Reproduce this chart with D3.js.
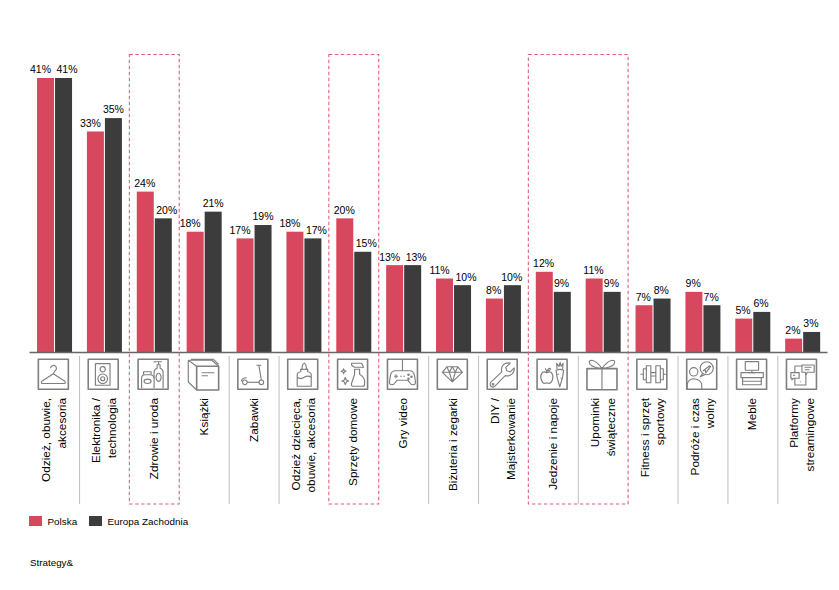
<!DOCTYPE html>
<html lang="pl">
<head>
<meta charset="utf-8">
<script src="https://cdn.jsdelivr.net/npm/d3@7"></script>
<style>
  body { margin: 0; background: #fff; }
  svg { display: block; }
  text { font-family: "Liberation Sans", Arial, sans-serif; fill: #000; }
</style>
</head>
<body>
<svg id="chart" width="839" height="590"></svg>
<script>
// chart values
const categories = [
  "Odzież, obuwie,\nakcesoria", "Elektronika /\ntechnologia", "Zdrowie i uroda", "Książki",
  "Zabawki", "Odzież dziecięca,\nobuwie, akcesoria", "Sprzęty domowe", "Gry video",
  "Biżuteria i zegarki", "DIY /\nMajsterkowanie", "Jedzenie i napoje", "Upominki\nświąteczne",
  "Fitness i sprzęt\nsportowy", "Podróże i czas\nwolny", "Meble", "Platformy\nstreamingowe"
];
const polska = [41, 33, 24, 18, 17, 18, 20, 13, 11, 8, 12, 11, 7, 9, 5, 2];
const europaZachodnia = [41, 35, 20, 21, 19, 17, 15, 13, 10, 10, 9, 9, 8, 7, 6, 3];
const seriesNames = ["Polska", "Europa Zachodnia"];
const seriesColors = ["#d7485f", "#3c3c3c"];
// category indexes inside the dashed boxes
const highlights = [[2, 2], [6, 6], [10, 11]];
const sourceNote = "Strategy&";

const svg = d3.select("#chart");
const baseline = 352;

const x = d3.scaleBand().domain(d3.range(categories.length)).range([29.6, 827.6])
  .paddingInner(0.298).paddingOuter(0.149);
const xSeries = d3.scaleBand().domain([0, 1]).range([0, x.bandwidth()]).paddingInner(0.0556);
const y = d3.scaleLinear().domain([0, 41]).range([baseline, 78]);
const step = x.step();
const bandStart = i => x(i) - (step - x.bandwidth()) / 2;

// bars
[polska, europaZachodnia].forEach((values, s) => {
  svg.append("g").selectAll("rect").data(values).join("rect")
    .attr("x", (d, i) => x(i) + xSeries(s))
    .attr("y", d => y(d))
    .attr("width", xSeries.bandwidth())
    .attr("height", d => baseline - y(d))
    .attr("fill", seriesColors[s]);
});

// value labels get pushed apart where two wide labels would touch
function labelShift(i, s) {
  const a = polska[i], b = europaZachodnia[i];
  if (a < 10 || b < 10) return -0.7;
  if (s === 0) return Math.abs(a - b) <= 3 ? -5 : -0.5;
  return b <= a ? 3.5 : 0;
}
[polska, europaZachodnia].forEach((values, s) => {
  svg.append("g").selectAll("text").data(values).join("text")
    .attr("x", (d, i) => x(i) + xSeries(s) + xSeries.bandwidth() / 2 + labelShift(i, s))
    .attr("y", d => y(d) - 4.6)
    .attr("text-anchor", "middle")
    .attr("font-size", 10.5)
    .text(d => d + "%");
});

// axis line
const axis = d3.axisBottom(x).tickSize(0).tickFormat("");
svg.append("g").attr("transform", `translate(-0.6,${baseline})`).call(axis)
  .call(g => g.select(".domain").attr("stroke", "#666").attr("stroke-width", 1.6));

// separators, skipped where a dashed box already marks the edge
const boxEdges = highlights.flatMap(h => [h[0], h[1] + 1]);
svg.append("g").selectAll("line")
  .data(d3.range(1, categories.length).filter(i => !boxEdges.includes(i)))
  .join("line")
  .attr("x1", i => bandStart(i) + 0.1).attr("x2", i => bandStart(i) + 0.1)
  .attr("y1", 356).attr("y2", 504)
  .attr("stroke", "#bdbdbd").attr("stroke-width", 1);

// dashed boxes
svg.append("g").selectAll("rect").data(highlights).join("rect")
  .attr("x", h => bandStart(h[0]))
  .attr("y", 54.5)
  .attr("width", h => bandStart(h[1]) + step - bandStart(h[0]))
  .attr("height", 449.5)
  .attr("fill", "none")
  .attr("stroke", "#e2607a")
  .attr("stroke-width", 1.1)
  .attr("stroke-dasharray", "3.5 2.5");

// category labels, rotated and aligned at the top
const lineGap = 15.6;
const labels = svg.append("g").selectAll("text").data(categories).join("text")
  .attr("transform", (d, i) => `translate(${x(i) + x.bandwidth() / 2 + 3.6},398) rotate(-90)`)
  .attr("text-anchor", "end")
  .attr("font-size", 11.8);
labels.each(function (d) {
  const lines = d.split("\n");
  d3.select(this).selectAll("tspan").data(lines).join("tspan")
    .attr("x", 0)
    .attr("y", (l, j) => (j - (lines.length - 1) / 2) * lineGap)
    .text(l => l);
});

// icons, drawn in a 30x30 box
const box = "M0 0H30V30H0Z";
const star = (cx, cy, r) => `M${cx} ${cy - r}L${cx + r * 0.3} ${cy - r * 0.3}L${cx + r} ${cy}L${cx + r * 0.3} ${cy + r * 0.3}L${cx} ${cy + r}L${cx - r * 0.3} ${cy + r * 0.3}L${cx - r} ${cy}L${cx - r * 0.3} ${cy - r * 0.3}Z`;
const circle = (cx, cy, r) => `M${cx - r} ${cy}a${r} ${r} 0 1 0 ${2 * r} 0a${r} ${r} 0 1 0 ${-2 * r} 0Z`;
const icons = [
  [box, "M12.3 9a2.9 2.9 0 1 1 4.4 2.5L15 14.5L3.5 22Q2.2 24.2 4.5 24.2H25.5Q27.8 24.2 26.5 22L15 14.5"],
  [box, "M7.2 4.3H21.8V26H7.2Z", circle(14.5, 10, 2.6), circle(14.5, 19.5, 4.8), circle(14.5, 19.5, 2)],
  [box, "M16 29V13Q16 10 19 9V5.5H22V9Q25 10 25 13V29", "M15.5 2.5H24M20.5 2.5V5.5", "M18 18a2.5 4 0 1 0 5 0a2.5 4 0 1 0 -5 0", "M3.5 29V19Q3.5 15.5 7 15.5H12Q15.5 15.5 16 19", "M5.5 15.5V12.5H13V15.5", "M6 22a3.5 2.2 0 1 0 7 0a3.5 2.2 0 1 0 -7 0"],
  ["M8.7 7H30.7V30.7H8.7Z", "M0.3 1V22.7L8.7 30.7M0.3 1L8.7 7M0.3 1H24L30.7 7M3 0H25.5L30.7 5", "M13.7 13.5H26.5M13.7 16.5H20"],
  [box, "M18.5 6H23.5M21 6L23.5 20.7", circle(7, 23, 2.3), circle(23.5, 23, 2.3), "M9.3 23H21.2", "M3.5 22Q4 18.5 9 18.5"],
  [box, "M9.5 27V15.5Q9.5 13 13 12.5V10H14.3Q14.3 4.5 16.5 4Q18.7 4.5 18.7 10H20V12.5Q23.5 13 23.5 15.5V27Z", "M9.5 18Q13 20.5 16.5 18T23.5 18", "M13 10H20"],
  [box, "M15 27Q13.5 27 14 24L17 15V10H22V15Q27 18 27 22V25Q27 27 25 27Z", "M14 4H24L26 8H17L14 6Z", star(6, 12, 2.4), star(7.7, 21.7, 3.4)],
  [box, "M15 0V11.5", "M8 11.5H22Q26 11.5 27 16L28 22Q28.5 25.5 25.5 25.5Q23.5 25.5 22 23L20.5 21H9.5L8 23Q6.5 25.5 4.5 25.5Q1.5 25.5 2 22L3 16Q4 11.5 8 11.5Z", "M6.5 17H10.5M8.5 15V19", "M12.7 17H14.3M15.7 17H17.3", circle(21, 15.5, 0.7), circle(24, 17.5, 0.7), circle(21, 19.5, 0.7)],
  [box, "M9.5 7.5H20.5L25 13L15 22.5L5 13ZM5 13H25M9.5 7.5L12 13L15 22.5L18 13L20.5 7.5M12 13L15 7.5L18 13"],
  [box, "M3.5 23L14.5 12.5Q13.5 7 17.5 4.5Q20 3 23 3.8L18.5 8L19.5 11.5L23 12.5L27 8.5Q27.5 12 25 14.5Q22 17.5 18 16.3L7.5 27Q5.5 28.5 3.8 27Q2.2 25 3.5 23Z", circle(5.8, 25, 0.8)],
  [box, "M9.8 13.5Q7 11.5 5 13.5Q3 16 4 20Q5.5 24.5 8 24Q9.8 23.3 11.6 24Q14 24.5 15.5 20Q16.5 16 14.5 13.5Q12.5 11.5 9.8 13.5Z", "M9.8 13.5Q9.5 10.5 8 9M10 11.5Q12 8 13.5 9.5Q12.5 12 10 11.5", "M19 11Q23 9 26.5 11Q26 19 22.7 27.5Q19.5 19 19 11Z", "M20 10L19.5 4L22 7L23 3L24 7L26 4L25.5 10", "M20 15H22M23.5 19H25"],
  ["M0 9.3H30V30.5H0Z", "M15 9.3V30.5", "M15 9.3Q10 2 5 1Q1 1 3 5Q6 8 15 9.3Q24 8 27 5Q29 1 25 1Q20 2 15 9.3Z"],
  [box, "M9.5 6.5H14V23.5H9.5ZM19 6.5H23.5V23.5H19ZM9.5 9.5H6.5V20.5H9.5M23.5 9.5H26.5V20.5H23.5", "M14 13.3H19M14 16.7H19M6.5 15H3.5M26.5 15H29.5"],
  [box, circle(7, 12.5, 4.2), "M0.5 30V25Q1.5 20 7 19.5Q13 20 15 24.5V30", circle(20, 9, 6.5), "M16 14L13.5 17.5L18 15.5", "M16.5 11.5L23 6.5L23.8 7.3L19 13.5L18.5 10.5Z"],
  [box, "M8.7 2.3H22V11H8.7Z", "M15.3 11V13.3M12 13.3H18.5", "M4.4 13.3H26.7V18.3H4.4Z", "M6 18.3V25.5H24.7V18.3M6 22H24.7"],
  [box, "M8.4 6.7H19.4V25.7H8.4Z", "M13.5 22.5H14.3", "M15.5 5.7H27.7V13H21L19.5 15.5L18.7 13H15.5Z", "M4.4 13.3H12.7V19H7L5.5 20.5V19H4.4Z", "M18 8H25M18 10.5H23", "M6.5 16H8.5"]
];

const iconGroups = svg.append("g").selectAll("g").data(icons).join("g")
  .attr("transform", (d, i) => `translate(${x(i) + x.bandwidth() / 2 - 16.2},359.3)`);
iconGroups.each(function (parts, i) {
  d3.select(this).selectAll("path").data(parts).join("path")
    .attr("d", d => d)
    .attr("fill", (d, j) => (i === 15 && (j === 3 || j === 4)) ? "#fff" : "none")
    .attr("stroke", "#7f7f7f")
    .attr("stroke-width", (d, j) => j === 0 ? 1.6 : 1.15)
    .attr("stroke-linejoin", "round");
});

// legend
const legendX = [29, 89];
const legendTextX = [47.5, 107.5];
seriesNames.forEach((name, s) => {
  svg.append("rect").attr("x", legendX[s]).attr("y", 516).attr("width", 13).attr("height", 10)
    .attr("fill", seriesColors[s]);
  svg.append("text").attr("x", legendTextX[s]).attr("y", 525.2).attr("font-size", 9.9).text(name);
});

svg.append("text").attr("x", 30).attr("y", 565.5).attr("font-size", 9.8).text(sourceNote);
</script>
</body>
</html>
